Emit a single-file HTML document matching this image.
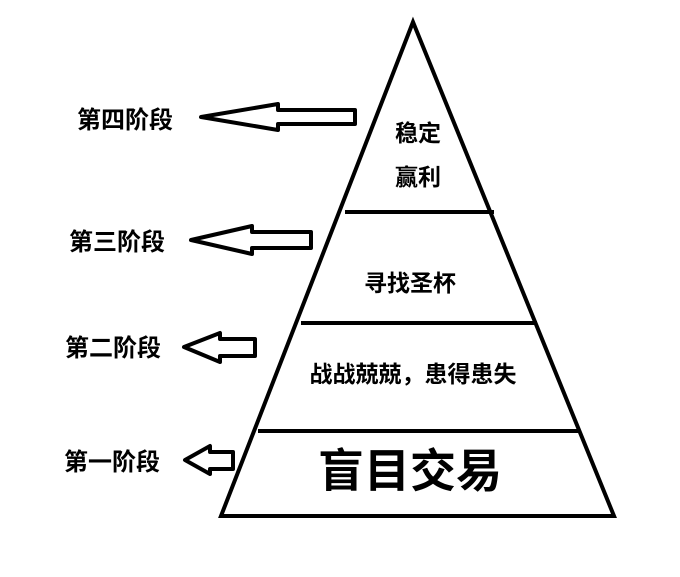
<!DOCTYPE html>
<html><head><meta charset="utf-8"><style>
html,body{margin:0;padding:0;background:#fff;}
svg text{font-family:"Liberation Sans","Noto Sans CJK SC",sans-serif;font-weight:bold;fill:#000;}
</style></head><body>
<svg width="680" height="572" viewBox="0 0 680 572" xmlns="http://www.w3.org/2000/svg">
<g fill="none" stroke="#000" stroke-width="4" stroke-linejoin="miter">
<polygon points="413,22 221,516 614,516"/>
<line x1="345" y1="212" x2="494" y2="212"/>
<line x1="301" y1="323" x2="537" y2="323"/>
<line x1="258" y1="431" x2="580" y2="431"/>
</g>
<g fill="none" stroke="#000" stroke-width="4" stroke-linejoin="round">
<polygon points="201,117 278,104 278,110 355,110 355,124 278,124 278,130"/>
<polygon points="191,240 252,226 252,232 311,232 311,248 252,248 252,254"/>
<polygon points="184,347 220,333 220,339 255,339 255,356 220,356 220,362"/>
<polygon points="185,460 210,446 210,452 233,452 233,469 210,469 210,474"/>
</g>
<g font-size="24">
<text x="77" y="128">第四阶段</text>
<text x="69" y="250">第三阶段</text>
<text x="65" y="356">第二阶段</text>
<text x="64" y="470">第一阶段</text>
</g>
<g font-size="23" text-anchor="middle" font-weight="normal">
<text x="418" y="141">稳定</text>
<text x="418" y="185">赢利</text>
<text x="410" y="291">寻找圣杯</text>
<text x="413" y="382">战战兢兢，患得患失</text>
</g>
<text x="410" y="487" font-size="46" text-anchor="middle">盲目交易</text>
</svg>
</body></html>
